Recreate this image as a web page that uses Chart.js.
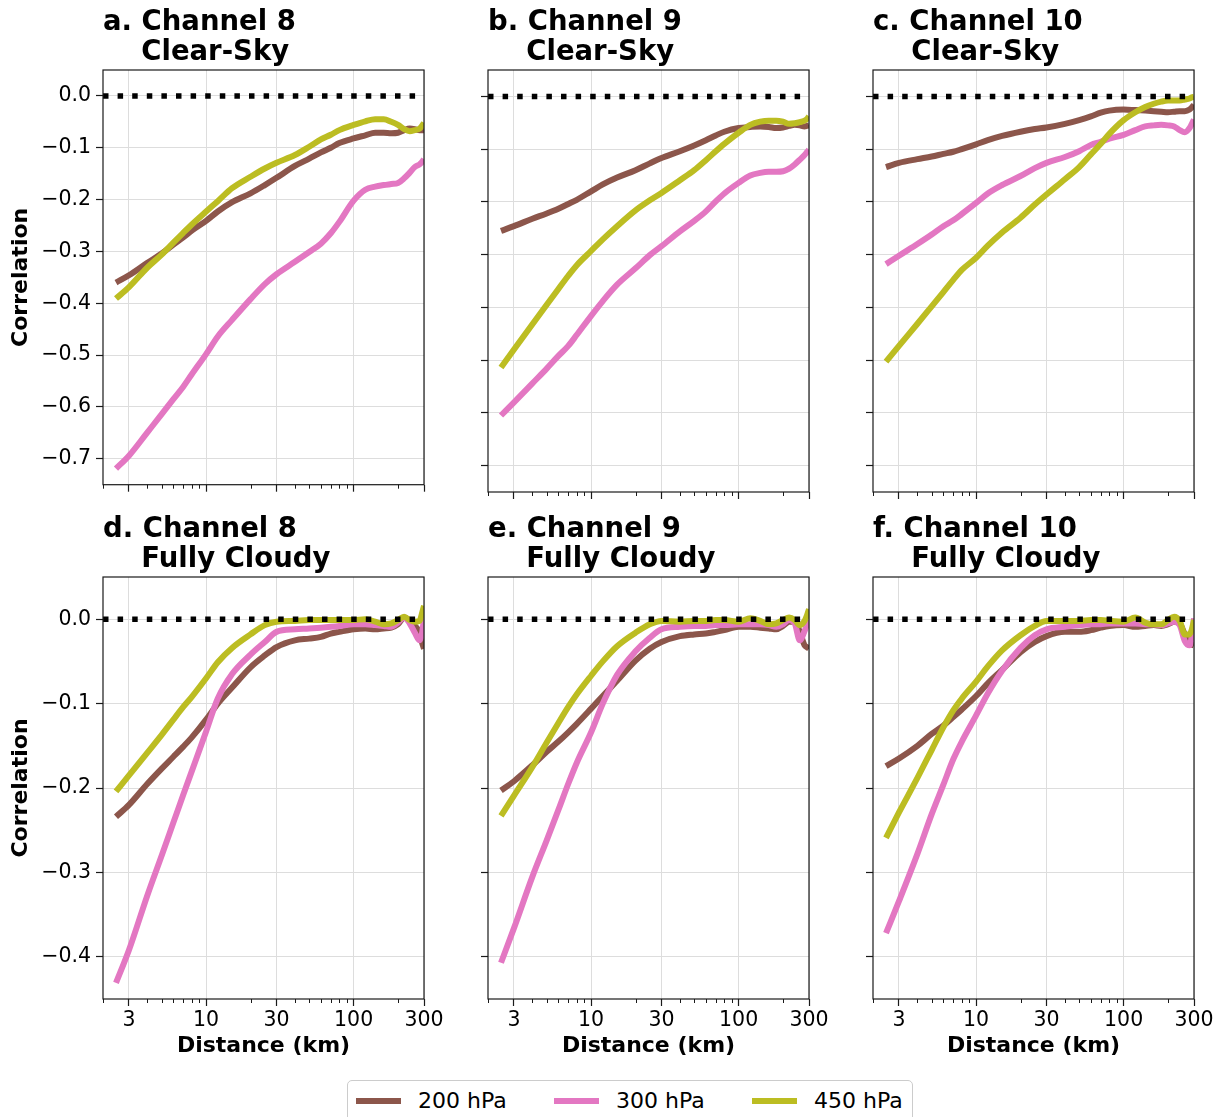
<!DOCTYPE html>
<html>
<head>
<meta charset="utf-8">
<title>Correlation vs distance</title>
<script src="https://cdn.jsdelivr.net/npm/chart.js@4.4.1/dist/chart.umd.min.js"></script>
<style>
  html, body { margin: 0; padding: 0; background: #ffffff; }
  #fig { position: relative; width: 1226px; height: 1117px; overflow: hidden; background: #ffffff;
         font-family: "DejaVu Sans", sans-serif; }
  #fig canvas { position: absolute; }
  .legend { position: absolute; left: 347px; top: 1080px; width: 566px; height: 48px;
            border: 1px solid #cccccc; border-radius: 5px; box-sizing: border-box; background: #ffffff; }
  .legend .swatch { position: absolute; top: 17px; width: 45px; height: 6px; }
  .legend .txt { position: absolute; top: 0; line-height: 40px; font-size: 22px; color: #000; white-space: nowrap; }
</style>
</head>
<body>
<div id="fig"></div>
<script>
// ---- data -------------------------------------------------------------
const DISTANCE_KM = [2.45, 3, 4, 5, 6, 7, 8, 10, 12, 15, 20, 25, 30, 40, 50, 60, 70, 80,
                     100, 120, 140, 160, 180, 200, 220, 240, 260, 280, 290, 300];

const SERIES_LABELS = ['200 hPa', '300 hPa', '450 hPa'];
const SERIES_COLORS = ['#8c564b', '#e377c2', '#bcbd22'];

const X_MIN = 2, X_MAX = 300;
const X_MAJOR_TICKS = [3, 10, 30, 100, 300];
const X_MINOR_TICKS = [2, 4, 5, 6, 7, 8, 9, 20, 40, 50, 60, 70, 80, 90, 200];
const Y_TICKS_CLEAR = [-0.7, -0.6, -0.5, -0.4, -0.3, -0.2, -0.1, 0.0];
const Y_TICKS_CLOUDY = [-0.4, -0.3, -0.2, -0.1, 0.0];

// Clear-sky
const CH8_CLEAR_200 = [-0.360,-0.346,-0.322,-0.304,-0.287,-0.273,-0.260,-0.241,-0.223,-0.205,-0.188,-0.172,-0.158,-0.135,-0.121,-0.109,-0.100,-0.091,-0.082,-0.076,-0.071,-0.071,-0.072,-0.071,-0.066,-0.063,-0.064,-0.066,-0.066,-0.066];
const CH8_CLEAR_300 = [-0.719,-0.694,-0.649,-0.614,-0.585,-0.561,-0.537,-0.498,-0.464,-0.432,-0.392,-0.363,-0.344,-0.320,-0.301,-0.285,-0.265,-0.243,-0.202,-0.181,-0.175,-0.172,-0.170,-0.168,-0.159,-0.148,-0.137,-0.132,-0.128,-0.122];
const CH8_CLEAR_450 = [-0.391,-0.369,-0.331,-0.306,-0.283,-0.264,-0.248,-0.223,-0.203,-0.178,-0.156,-0.140,-0.129,-0.114,-0.098,-0.084,-0.075,-0.066,-0.056,-0.049,-0.045,-0.045,-0.050,-0.056,-0.064,-0.068,-0.066,-0.063,-0.058,-0.052];

const CH9_CLEAR_200 = [-0.255,-0.246,-0.232,-0.222,-0.213,-0.204,-0.196,-0.180,-0.167,-0.154,-0.140,-0.127,-0.117,-0.104,-0.093,-0.083,-0.074,-0.067,-0.060,-0.058,-0.057,-0.058,-0.060,-0.059,-0.056,-0.054,-0.055,-0.057,-0.056,-0.055];
const CH9_CLEAR_300 = [-0.605,-0.580,-0.544,-0.516,-0.492,-0.473,-0.452,-0.416,-0.388,-0.357,-0.326,-0.301,-0.284,-0.256,-0.236,-0.218,-0.199,-0.184,-0.164,-0.150,-0.145,-0.143,-0.143,-0.142,-0.137,-0.129,-0.120,-0.111,-0.106,-0.101];
const CH9_CLEAR_450 = [-0.514,-0.480,-0.432,-0.395,-0.365,-0.340,-0.320,-0.293,-0.271,-0.246,-0.216,-0.197,-0.183,-0.159,-0.140,-0.121,-0.104,-0.090,-0.069,-0.054,-0.048,-0.046,-0.046,-0.048,-0.052,-0.051,-0.049,-0.046,-0.043,-0.038];

const CH10_CLEAR_200 = [-0.134,-0.126,-0.119,-0.114,-0.109,-0.105,-0.100,-0.091,-0.083,-0.075,-0.067,-0.062,-0.059,-0.052,-0.045,-0.038,-0.031,-0.027,-0.025,-0.026,-0.027,-0.028,-0.029,-0.030,-0.029,-0.028,-0.028,-0.025,-0.021,-0.016];
const CH10_CLEAR_300 = [-0.318,-0.302,-0.280,-0.262,-0.246,-0.235,-0.223,-0.202,-0.184,-0.168,-0.151,-0.136,-0.126,-0.115,-0.104,-0.092,-0.086,-0.080,-0.073,-0.064,-0.057,-0.055,-0.054,-0.055,-0.057,-0.064,-0.068,-0.060,-0.052,-0.044];
const CH10_CLEAR_450 = [-0.503,-0.473,-0.431,-0.398,-0.371,-0.348,-0.329,-0.306,-0.283,-0.258,-0.230,-0.205,-0.186,-0.157,-0.134,-0.110,-0.090,-0.071,-0.045,-0.030,-0.020,-0.014,-0.010,-0.008,-0.008,-0.008,-0.006,-0.004,-0.002,-0.001];

// Fully cloudy
const CH8_CLOUDY_200 = [-0.234,-0.220,-0.195,-0.177,-0.163,-0.151,-0.140,-0.119,-0.100,-0.081,-0.057,-0.043,-0.033,-0.025,-0.023,-0.021,-0.017,-0.015,-0.012,-0.011,-0.012,-0.011,-0.010,-0.006,0.002,-0.002,-0.008,-0.016,-0.027,-0.035];
const CH8_CLOUDY_300 = [-0.431,-0.392,-0.327,-0.280,-0.241,-0.208,-0.180,-0.133,-0.094,-0.065,-0.042,-0.027,-0.015,-0.012,-0.011,-0.010,-0.009,-0.008,-0.006,-0.006,-0.007,-0.008,-0.009,-0.004,0.002,-0.005,-0.016,-0.025,-0.018,0.001];
const CH8_CLOUDY_450 = [-0.204,-0.185,-0.158,-0.137,-0.119,-0.104,-0.092,-0.070,-0.051,-0.034,-0.018,-0.007,-0.003,-0.002,-0.001,-0.001,-0.001,-0.001,-0.001,0.000,-0.003,-0.006,-0.005,-0.001,0.003,-0.001,-0.003,-0.002,0.006,0.016];

const CH9_CLOUDY_200 = [-0.203,-0.192,-0.173,-0.157,-0.145,-0.134,-0.124,-0.106,-0.091,-0.073,-0.049,-0.035,-0.027,-0.020,-0.018,-0.017,-0.015,-0.013,-0.009,-0.009,-0.010,-0.011,-0.012,-0.008,-0.003,-0.003,-0.015,-0.031,-0.033,-0.035];
const CH9_CLOUDY_300 = [-0.407,-0.366,-0.305,-0.262,-0.226,-0.195,-0.170,-0.134,-0.100,-0.066,-0.038,-0.022,-0.012,-0.009,-0.008,-0.008,-0.007,-0.007,-0.006,-0.006,-0.006,-0.007,-0.009,-0.006,-0.001,-0.005,-0.025,-0.014,-0.007,-0.001];
const CH9_CLOUDY_450 = [-0.233,-0.209,-0.175,-0.146,-0.123,-0.104,-0.089,-0.067,-0.050,-0.032,-0.016,-0.006,-0.002,-0.003,-0.002,-0.002,-0.001,-0.001,-0.003,0.001,-0.002,-0.006,-0.005,-0.001,0.002,-0.001,-0.007,-0.002,0.004,0.012];

const CH10_CLOUDY_200 = [-0.174,-0.165,-0.150,-0.136,-0.126,-0.116,-0.107,-0.091,-0.076,-0.060,-0.039,-0.027,-0.020,-0.015,-0.015,-0.013,-0.010,-0.008,-0.007,-0.009,-0.008,-0.007,-0.008,-0.006,-0.003,-0.005,-0.018,-0.028,-0.030,-0.031];
const CH10_CLOUDY_300 = [-0.372,-0.334,-0.278,-0.231,-0.196,-0.166,-0.145,-0.114,-0.088,-0.061,-0.034,-0.019,-0.012,-0.009,-0.007,-0.006,-0.006,-0.005,-0.005,-0.005,-0.006,-0.006,-0.007,-0.005,-0.003,-0.007,-0.026,-0.031,-0.020,0.001];
const CH10_CLOUDY_450 = [-0.259,-0.229,-0.188,-0.155,-0.128,-0.108,-0.094,-0.074,-0.056,-0.037,-0.019,-0.008,-0.002,-0.002,-0.002,-0.001,-0.001,-0.002,-0.003,0.002,-0.004,-0.006,-0.006,-0.001,0.003,-0.002,-0.018,-0.018,-0.012,-0.001];

// ---- panel layout -----------------------------------------------------
const PANELS = [
  { title: ['a. Channel 8', '    Clear-Sky'],     row: 0, col: 0, values: [CH8_CLEAR_200, CH8_CLEAR_300, CH8_CLEAR_450] },
  { title: ['b. Channel 9', '    Clear-Sky'],     row: 0, col: 1, values: [CH9_CLEAR_200, CH9_CLEAR_300, CH9_CLEAR_450] },
  { title: ['c. Channel 10', '    Clear-Sky'],    row: 0, col: 2, values: [CH10_CLEAR_200, CH10_CLEAR_300, CH10_CLEAR_450] },
  { title: ['d. Channel 8', '    Fully Cloudy'],  row: 1, col: 0, values: [CH8_CLOUDY_200, CH8_CLOUDY_300, CH8_CLOUDY_450] },
  { title: ['e. Channel 9', '    Fully Cloudy'],  row: 1, col: 1, values: [CH9_CLOUDY_200, CH9_CLOUDY_300, CH9_CLOUDY_450] },
  { title: ['f. Channel 10', '    Fully Cloudy'], row: 1, col: 2, values: [CH10_CLOUDY_200, CH10_CLOUDY_300, CH10_CLOUDY_450] }
];
const ROW_RANGES = [
  { min: -0.75, max: 0.05, ticks: Y_TICKS_CLEAR },
  { min: -0.45, max: 0.05, ticks: Y_TICKS_CLOUDY }
];

const PLOT_W = 321, PLOT_H = 422;
const COL_LEFT = [103, 488, 873];
const ROW_TOP = [70, 577];
const AXIS_W = 103, TITLE_H = 70, RIGHT_PAD = 31;
const GRID_COLOR = '#dddddd';
const AXIS_COLOR = '#1a1a1a';
const LINE_W = 6;
const FONT = '"DejaVu Sans", sans-serif';

Chart.defaults.font.family = FONT;
Chart.defaults.color = '#000000';

const fmtCorr = v => (v < -1e-9 ? '\u2212' : '') + Math.abs(v).toFixed(1);

// frame, minor x ticks and the two-line panel heading
const panelDecor = {
  id: 'panelDecor',
  afterDatasetsDraw(chart, args, opts) {
    const { ctx, chartArea: a } = chart;
    const x = chart.scales.x;
    ctx.save();
    ctx.strokeStyle = AXIS_COLOR;
    ctx.lineWidth = 1;
    X_MINOR_TICKS.forEach(v => {
      const px = Math.round(x.getPixelForValue(v)) + 0.5;
      ctx.beginPath();
      ctx.moveTo(px, a.bottom);
      ctx.lineTo(px, a.bottom + 4);
      ctx.stroke();
    });
    ctx.lineWidth = 1.2;
    ctx.strokeRect(a.left, a.top, a.right - a.left, a.bottom - a.top);

    ctx.fillStyle = '#000000';
    ctx.font = 'bold 27.5px ' + FONT;
    ctx.textAlign = 'left';
    ctx.textBaseline = 'alphabetic';
    ctx.fillText(opts.title[0], a.left, a.top - 40);
    ctx.fillText(opts.title[1], a.left, a.top - 10);
    ctx.restore();
  }
};

const fig = document.getElementById('fig');

PANELS.forEach(p => {
  const range = ROW_RANGES[p.row];
  const showY = p.col === 0;
  const showX = p.row === 1;
  const xAxisH = showX ? 66 : 10;
  const w = AXIS_W + PLOT_W + RIGHT_PAD;
  const h = TITLE_H + PLOT_H + xAxisH;

  const canvas = document.createElement('canvas');
  canvas.width = w; canvas.height = h;
  canvas.style.width = w + 'px'; canvas.style.height = h + 'px';
  canvas.style.left = (COL_LEFT[p.col] - AXIS_W) + 'px';
  canvas.style.top = (ROW_TOP[p.row] - TITLE_H) + 'px';
  fig.appendChild(canvas);

  // dotted zero reference on top, then 450, 300, 200 hPa underneath
  const datasets = [{
    label: 'zero',
    data: [{ x: X_MIN, y: 0 }, { x: X_MAX, y: 0 }],
    borderColor: '#000000', borderWidth: 5.5, borderDash: [5.5, 9.1], borderCapStyle: 'butt',
    pointRadius: 0
  }];
  for (let k = SERIES_LABELS.length - 1; k >= 0; k--) {
    datasets.push({
      label: SERIES_LABELS[k],
      data: DISTANCE_KM.map((d, i) => ({ x: d, y: p.values[k][i] })),
      borderColor: SERIES_COLORS[k],
      borderWidth: LINE_W,
      pointRadius: 0,
      cubicInterpolationMode: 'monotone'
    });
  }

  new Chart(canvas, {
    type: 'line',
    data: { datasets },
    options: {
      responsive: false,
      animation: false,
      devicePixelRatio: 1,
      events: [],
      layout: { autoPadding: false, padding: { top: TITLE_H, right: RIGHT_PAD, left: 0, bottom: 0 } },
      plugins: {
        legend: { display: false },
        tooltip: { enabled: false },
        panelDecor: { title: p.title }
      },
      scales: {
        x: {
          type: 'logarithmic',
          min: X_MIN, max: X_MAX,
          afterBuildTicks: s => {
            s.ticks = X_MINOR_TICKS.concat(X_MAJOR_TICKS).sort((a, b) => a - b)
              .map(v => ({ value: v, major: X_MAJOR_TICKS.includes(v) }));
          },
          afterFit: s => { s.height = xAxisH; },
          ticks: {
            display: showX, autoSkip: false, maxRotation: 0, minRotation: 0, padding: 2,
            font: { size: 20.5 }, color: '#000000',
            callback: v => X_MAJOR_TICKS.includes(v) ? String(v) : ''
          },
          grid: {
            color: c => (c.tick && c.tick.major) ? GRID_COLOR : 'rgba(0,0,0,0)',
            tickColor: c => (c.tick && c.tick.major) ? AXIS_COLOR : 'rgba(0,0,0,0)',
            tickLength: 7, tickWidth: 1.2, lineWidth: 1
          },
          border: { display: false },
          title: { display: showX, text: 'Distance (km)', font: { size: 22, weight: 'bold' },
                   color: '#000000', padding: { top: 0, bottom: 6 } }
        },
        y: {
          type: 'linear',
          min: range.min, max: range.max,
          afterBuildTicks: s => { s.ticks = range.ticks.map(v => ({ value: v })); },
          afterFit: s => { s.width = AXIS_W; },
          ticks: { display: showY, padding: 5, font: { size: 20.5 }, color: '#000000', callback: v => fmtCorr(v) },
          grid: { color: GRID_COLOR, tickColor: AXIS_COLOR, tickLength: 7, tickWidth: 1.2, lineWidth: 1 },
          border: { display: false },
          title: { display: showY, text: 'Correlation', font: { size: 22, weight: 'bold' },
                   color: '#000000', padding: { top: 8, bottom: 0 } }
        }
      }
    },
    plugins: [panelDecor]
  });
});

// legend strip below the panels
const legend = document.createElement('div');
legend.className = 'legend';
SERIES_LABELS.forEach((label, k) => {
  const sw = document.createElement('span');
  sw.className = 'swatch';
  sw.style.left = (8 + k * 198) + 'px';
  sw.style.background = SERIES_COLORS[k];
  const tx = document.createElement('span');
  tx.className = 'txt';
  tx.style.left = (70 + k * 198) + 'px';
  tx.textContent = label;
  legend.appendChild(sw);
  legend.appendChild(tx);
});
fig.appendChild(legend);
</script>
</body>
</html>
